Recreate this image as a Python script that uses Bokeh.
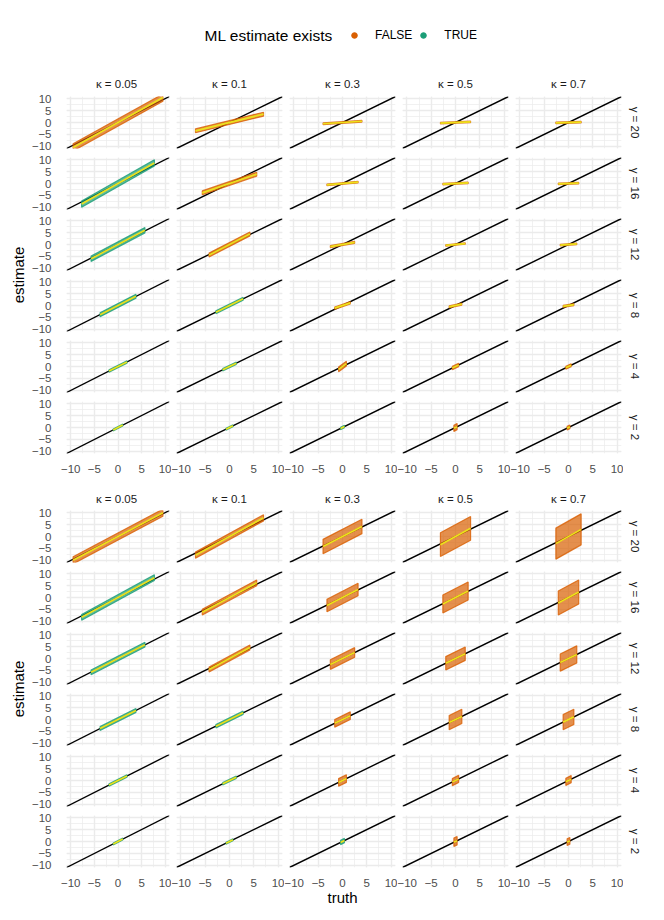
import math
from bokeh.plotting import figure
from bokeh.models import Range1d, Label, Legend, LegendItem, Slope, SingleIntervalTicker
from bokeh.layouts import column, row
from bokeh.embed import file_html
from bokeh.resources import INLINE

# ---------------- data ----------------
KAPPA = [0.05, 0.1, 0.3, 0.5, 0.7]
GAMMA = [20, 16, 12, 8, 4, 2]
TICKS = [-10, -5, 0, 5, 10]
TICK_LABELS = ["\u221210", "\u22125", "0", "5", "10"]
LEGEND_TITLE = "ML estimate exists"
CLASSES = ["FALSE", "TRUE"]

# half range of the truth values of each cloud (rows = gamma, cols = kappa)
TRUTH_HALF = [
    [9.5, 7.0, 4.0, 3.1, 2.6],
    [7.7, 5.6, 3.2, 2.6, 2.1],
    [5.7, 4.2, 2.5, 2.0, 1.7],
    [3.8, 2.8, 1.6, 1.3, 1.1],
    [1.9, 1.4, 0.8, 0.65, 0.55],
    [1.0, 0.7, 0.4, 0.33, 0.28],
]
# top block: slope of fitted (yellow) line and vertical spread of the cloud
TOP_SLOPE = [
    [1.10, 0.50, 0.13, 0.08, 0.05],
    [1.12, 0.70, 0.18, 0.10, 0.07],
    [1.05, 1.05, 0.35, 0.20, 0.15],
    [1.02, 1.00, 0.70, 0.45, 0.35],
    [1.00, 1.00, 1.50, 1.00, 1.00],
    [1.00, 1.00, 1.00, 1.00, 1.00],
]
TOP_SPREAD = [
    [1.5, 0.8, 0.35, 0.3, 0.3],
    [1.3, 0.8, 0.35, 0.3, 0.3],
    [1.1, 0.8, 0.4, 0.3, 0.3],
    [0.8, 0.6, 0.5, 0.4, 0.4],
    [0.5, 0.5, 1.0, 0.7, 0.6],
    [0.4, 0.4, 0.5, 1.3, 0.8],
]
TOP_CLASS = [
    ["FALSE", "FALSE", "FALSE", "FALSE", "FALSE"],
    ["TRUE", "FALSE", "FALSE", "FALSE", "FALSE"],
    ["TRUE", "FALSE", "FALSE", "FALSE", "FALSE"],
    ["TRUE", "TRUE", "FALSE", "FALSE", "FALSE"],
    ["TRUE", "TRUE", "FALSE", "FALSE", "FALSE"],
    ["TRUE", "TRUE", "TRUE", "FALSE", "FALSE"],
]
# bottom block
BOT_SLOPE = [
    [1.05, 1.12, 1.05, 1.10, 1.15],
    [1.08, 1.10, 1.05, 1.05, 1.10],
    [1.02, 1.10, 1.02, 1.00, 1.00],
    [1.00, 1.00, 1.00, 1.00, 1.00],
    [1.00, 1.00, 1.00, 1.00, 1.00],
    [1.00, 1.00, 1.00, 1.00, 1.00],
]
BOT_SPREAD = [
    [1.5, 1.3, 3.0, 5.0, 6.5],
    [1.2, 1.2, 2.6, 3.8, 5.0],
    [1.0, 1.0, 2.0, 2.8, 3.6],
    [0.8, 0.7, 1.6, 3.0, 3.2],
    [0.5, 0.5, 1.6, 1.5, 1.5],
    [0.4, 0.4, 0.9, 1.8, 1.4],
]
BOT_CLASS = [
    ["FALSE", "FALSE", "FALSE", "FALSE", "FALSE"],
    ["TRUE", "FALSE", "FALSE", "FALSE", "FALSE"],
    ["TRUE", "FALSE", "FALSE", "FALSE", "FALSE"],
    ["TRUE", "TRUE", "FALSE", "FALSE", "FALSE"],
    ["TRUE", "TRUE", "FALSE", "FALSE", "FALSE"],
    ["TRUE", "TRUE", "TRUE", "FALSE", "FALSE"],
]

# ---------------- style ----------------
FONT = "Liberation Sans"
COLORS = {"FALSE": "#D95F02", "TRUE": "#1B9E77"}
YELLOW = "#EDE21B"
GRID = "#EBEBEB"
LIM = 10.9

TOTAL_W = 664
FRAME_W, FRAME_H = 106, 52
LABEL_W = 28
GAMMA_W = 41
COL_LEFT = [35, 5, 5, 5, 5]
COL_RIGHT = [2, 2, 2, 2, 2]
ROW_TOP, ROW_BOTTOM = 5, 4
OUTER_LEFT = LABEL_W + COL_LEFT[0]
OUTER_RIGHT = TOTAL_W - OUTER_LEFT - (5 * FRAME_W + 4 * 7)


def blank_fig(width, height, left=0, right=0, top=0, bottom=0):
    p = figure(width=width, height=height, x_range=Range1d(0, 1), y_range=Range1d(0, 1),
               output_backend="svg", toolbar_location=None, tools="",
               x_axis_location=None, y_axis_location=None,
               min_border_left=left, min_border_right=right,
               min_border_top=top, min_border_bottom=bottom)
    p.grid.visible = False
    p.outline_line_color = None
    p.background_fill_color = None
    p.border_fill_color = None
    return p


def text_fig(width, height, text, x, y, angle=0.0, size="11.5px", color="#1A1A1A",
             left=0, right=0, top=0, bottom=0):
    p = blank_fig(width, height, left, right, top, bottom)
    p.add_layout(Label(x=x, y=y, text=text, angle=angle, text_align="center",
                       text_baseline="middle", text_font=FONT, text_font_size=size,
                       text_color=color))
    return p


def style_axis(ax, standoff):
    ax.ticker = SingleIntervalTicker(interval=5, num_minor_ticks=2)
    ax.major_label_overrides = dict(zip(TICKS, TICK_LABELS))
    ax.axis_line_color = None
    ax.major_tick_line_color = None
    ax.minor_tick_line_color = None
    ax.major_label_text_font = FONT
    ax.major_label_text_font_size = "11.5px"
    ax.major_label_text_color = "#4D4D4D"
    ax.major_label_standoff = standoff


def facet(ci, ri, nrows, bottom_border, slope, spread, cls, truth_half):
    show_x = ri == nrows - 1
    show_y = ci == 0
    width = COL_LEFT[ci] + FRAME_W + COL_RIGHT[ci]
    top = ROW_TOP
    bottom = bottom_border if show_x else ROW_BOTTOM
    height = top + FRAME_H + bottom
    p = figure(width=width, height=height,
               x_range=Range1d(-LIM, LIM), y_range=Range1d(-LIM, LIM),
               output_backend="svg", toolbar_location=None, tools="",
               x_axis_location="below" if show_x else None,
               y_axis_location="left" if show_y else None,
               min_border_left=COL_LEFT[ci], min_border_right=COL_RIGHT[ci],
               min_border_top=top, min_border_bottom=bottom)
    p.outline_line_color = None
    p.background_fill_color = "white"
    p.border_fill_color = None
    for g in p.xgrid + p.ygrid:
        g.ticker = SingleIntervalTicker(interval=5, num_minor_ticks=2)
        g.grid_line_color = GRID
        g.grid_line_width = 1.4
        g.minor_grid_line_color = GRID
        g.minor_grid_line_width = 0.7
    if show_x:
        style_axis(p.xaxis[0], 5)
    if show_y:
        style_axis(p.yaxis[0], 9)

    p.add_layout(Slope(gradient=1, y_intercept=0, line_color="black",
                       line_width=1.4, level="underlay"))

    h = truth_half[ri][ci]
    s = slope[ri][ci]
    w = spread[ri][ci]
    col = COLORS[cls[ri][ci]]
    p.patch(x=[-h, h, h, -h], y=[-s * h - w, s * h - w, s * h + w, -s * h + w],
            fill_color=col, fill_alpha=0.7, line_color=col, line_alpha=0.8,
            line_width=1.2)
    p.line(x=[-h, h], y=[-s * h, s * h], line_color=YELLOW, line_width=1.7)
    return p


def block(slope, spread, cls, strip_h, strip_y, bottom_border):
    strips = []
    for ci, k in enumerate(KAPPA):
        right = COL_RIGHT[ci] + (GAMMA_W if ci == 4 else 0)
        w = COL_LEFT[ci] + FRAME_W + right
        strips.append(text_fig(w, strip_h, "\u03ba = %s" % k, 0.5, strip_y,
                               left=COL_LEFT[ci], right=right))
    rows = [row(*strips)]
    nrows = len(GAMMA)
    for ri, gm in enumerate(GAMMA):
        figs = [facet(ci, ri, nrows, bottom_border, slope, spread, cls, TRUTH_HALF)
                for ci in range(len(KAPPA))]
        bottom = bottom_border if ri == nrows - 1 else ROW_BOTTOM
        figs.append(text_fig(GAMMA_W, ROW_TOP + FRAME_H + bottom, "\u03b3 = %d" % gm,
                             0.27, 0.5, angle=-math.pi / 2,
                             top=ROW_TOP, bottom=bottom))
        rows.append(row(*figs))
    total_h = strip_h + (nrows - 1) * (ROW_TOP + FRAME_H + ROW_BOTTOM) + ROW_TOP + FRAME_H + bottom_border
    lab = text_fig(LABEL_W, total_h, "estimate", 0.64, 0.5, angle=math.pi / 2,
                   size="15px", color="black",
                   top=strip_h + ROW_TOP, bottom=bottom_border)
    return row(lab, column(*rows))


# ---------------- header with legend ----------------
HEADER_H = 70
frame_w = TOTAL_W - OUTER_LEFT - OUTER_RIGHT
header = blank_fig(TOTAL_W, HEADER_H, left=OUTER_LEFT, right=OUTER_RIGHT)
header.x_range = Range1d(0, frame_w)
header.y_range = Range1d(0, HEADER_H)
header.add_layout(Label(x=141, y=35, text=LEGEND_TITLE, text_align="left",
                        text_baseline="middle", text_font=FONT,
                        text_font_size="15.5px", text_color="black"))
items = []
for c in CLASSES:
    r = header.scatter(x=[float("nan")], y=[float("nan")], size=3, color=COLORS[c])
    items.append(LegendItem(label=c, renderers=[r]))
legend = Legend(items=items, location=(284, 28), orientation="horizontal",
                glyph_width=14, glyph_height=14, label_height=14, label_standoff=14,
                spacing=4, padding=0, margin=0, border_line_color=None,
                background_fill_alpha=0, label_text_font=FONT,
                label_text_font_size="12px", label_text_color="black")
header.add_layout(legend)

top_block = block(TOP_SLOPE, TOP_SPREAD, TOP_CLASS, 21, 0.38, 24)
bottom_block = block(BOT_SLOPE, BOT_SPREAD, BOT_CLASS, 28, 0.25, 22)

truth = text_fig(TOTAL_W, 31, "truth", 0.5, 0.74, size="15px", color="black",
                 left=OUTER_LEFT, right=OUTER_RIGHT)

page = column(header, top_block, bottom_block, truth)

open("out.html", "w").write(file_html(page, INLINE))
